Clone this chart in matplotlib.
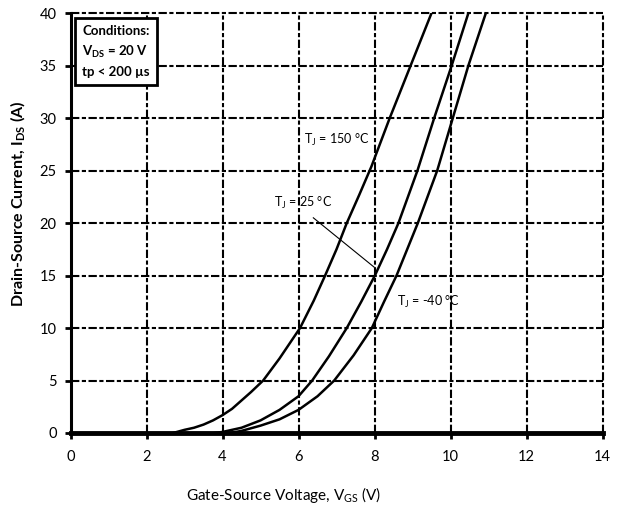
import matplotlib
import matplotlib.pyplot as plt

matplotlib.use('Agg')

plt.rcParams['font.family'] = ['Lato', 'DejaVu Sans']
plt.rcParams['mathtext.fontset'] = 'custom'
plt.rcParams['mathtext.rm'] = 'Lato'
plt.rcParams['mathtext.bf'] = 'Lato:bold'

# Transfer characteristics, I_DS vs V_GS at three junction temperatures
vgs_150 = [2.7, 3.0, 3.25, 3.5, 3.75, 4.0, 4.25, 4.5, 4.75, 5.07, 5.5, 6.04, 6.4, 6.7, 7.0, 7.27,
           7.6, 7.92, 8.4, 8.95, 9.5]
ids_150 = [0, 0.3, 0.5, 0.8, 1.2, 1.7, 2.3, 3.1, 3.9, 5, 7.1, 10, 12.6, 15, 17.5, 20,
           22.7, 25.4, 30, 35, 40]

vgs_25 = [3.8, 4.0, 4.5, 5.0, 5.5, 6.0, 6.36, 6.8, 7.27, 7.65, 8.01, 8.33, 8.63, 9.13, 9.57,
          10.03, 10.47]
ids_25 = [0, 0.1, 0.5, 1.2, 2.2, 3.5, 5, 7.3, 10, 12.5, 15, 17.5, 20, 25, 30, 35, 40]

vgs_m40 = [4.2, 4.5, 5.0, 5.5, 6.0, 6.5, 6.94, 7.45, 7.93, 8.25, 8.58, 9.14, 9.65, 10.06,
           10.47, 10.93]
ids_m40 = [0, 0.2, 0.7, 1.3, 2.2, 3.5, 5, 7.4, 10, 12.5, 15, 20, 25, 30, 35, 40]

x_ticks = [0, 2, 4, 6, 8, 10, 12, 14]
y_ticks = [0, 5, 10, 15, 20, 25, 30, 35, 40]

fig = plt.figure(figsize=(6.17, 5.05), dpi=100)
ax = fig.add_axes([0.1143, 0.1426, 0.8622, 0.8314])

# dashed grid, including the lines at the top and right edges
grid_style = dict(color='black', lw=1.5, ls=(0, (4, 1.2, 2, 1.2)), zorder=1, clip_on=False)
for x in x_ticks[1:]:
    ax.axvline(x, **grid_style)
for y in y_ticks[1:]:
    ax.axhline(y, **grid_style)

ax.plot(vgs_150, ids_150, color='black', lw=1.8, zorder=3)
ax.plot(vgs_25, ids_25, color='black', lw=1.8, zorder=3)
ax.plot(vgs_m40, ids_m40, color='black', lw=1.8, zorder=3)

ax.set_xlim(0, 14)
ax.set_ylim(0, 40)
ax.set_xticks(x_ticks)
ax.set_yticks(y_ticks)
ax.tick_params(axis='both', direction='out', length=4, width=2, labelsize=10.5)
ax.tick_params(axis='x', pad=8)
ax.tick_params(axis='y', pad=6)

for side in ['top', 'right']:
    ax.spines[side].set_visible(False)
ax.spines['left'].set_linewidth(2.2)
ax.spines['bottom'].set_linewidth(3.5)
ax.spines['bottom'].set_zorder(4)

ax.set_xlabel(r'Gate-Source Voltage, V$_{\mathregular{GS}}$ (V)', fontsize=11)
ax.xaxis.set_label_coords(0.40, -0.125)
ax.set_ylabel(r'Drain-Source Current, I$_{\mathbf{DS}}$ (A)', fontsize=11.5, fontweight='bold')
ax.yaxis.set_label_coords(-0.08, 0.545)

ax.text(0.022, 0.972, 'Conditions:\nV$_{\\mathbf{DS}}$ = 20 V\ntp < 200 µs',
        transform=ax.transAxes, fontsize=9.5, fontweight='bold', va='top', ha='left',
        linespacing=1.6, zorder=5,
        bbox=dict(boxstyle='square,pad=0.55', fc='white', ec='black', lw=2))

ax.text(6.15, 27.9, r'T$_{\mathregular{J}}$ = 150 °C', fontsize=9, va='center', zorder=5)
ax.text(5.35, 21.9, r'T$_{\mathregular{J}}$ = 25 °C', fontsize=9, va='center', zorder=5)
ax.text(8.6, 12.5, r'T$_{\mathregular{J}}$ = -40 °C', fontsize=9, va='center', zorder=5)
ax.plot([6.39, 7.99], [20.5, 15.8], color='black', lw=0.8, zorder=4)

fig.savefig('out.png', dpi=100, facecolor='white')
